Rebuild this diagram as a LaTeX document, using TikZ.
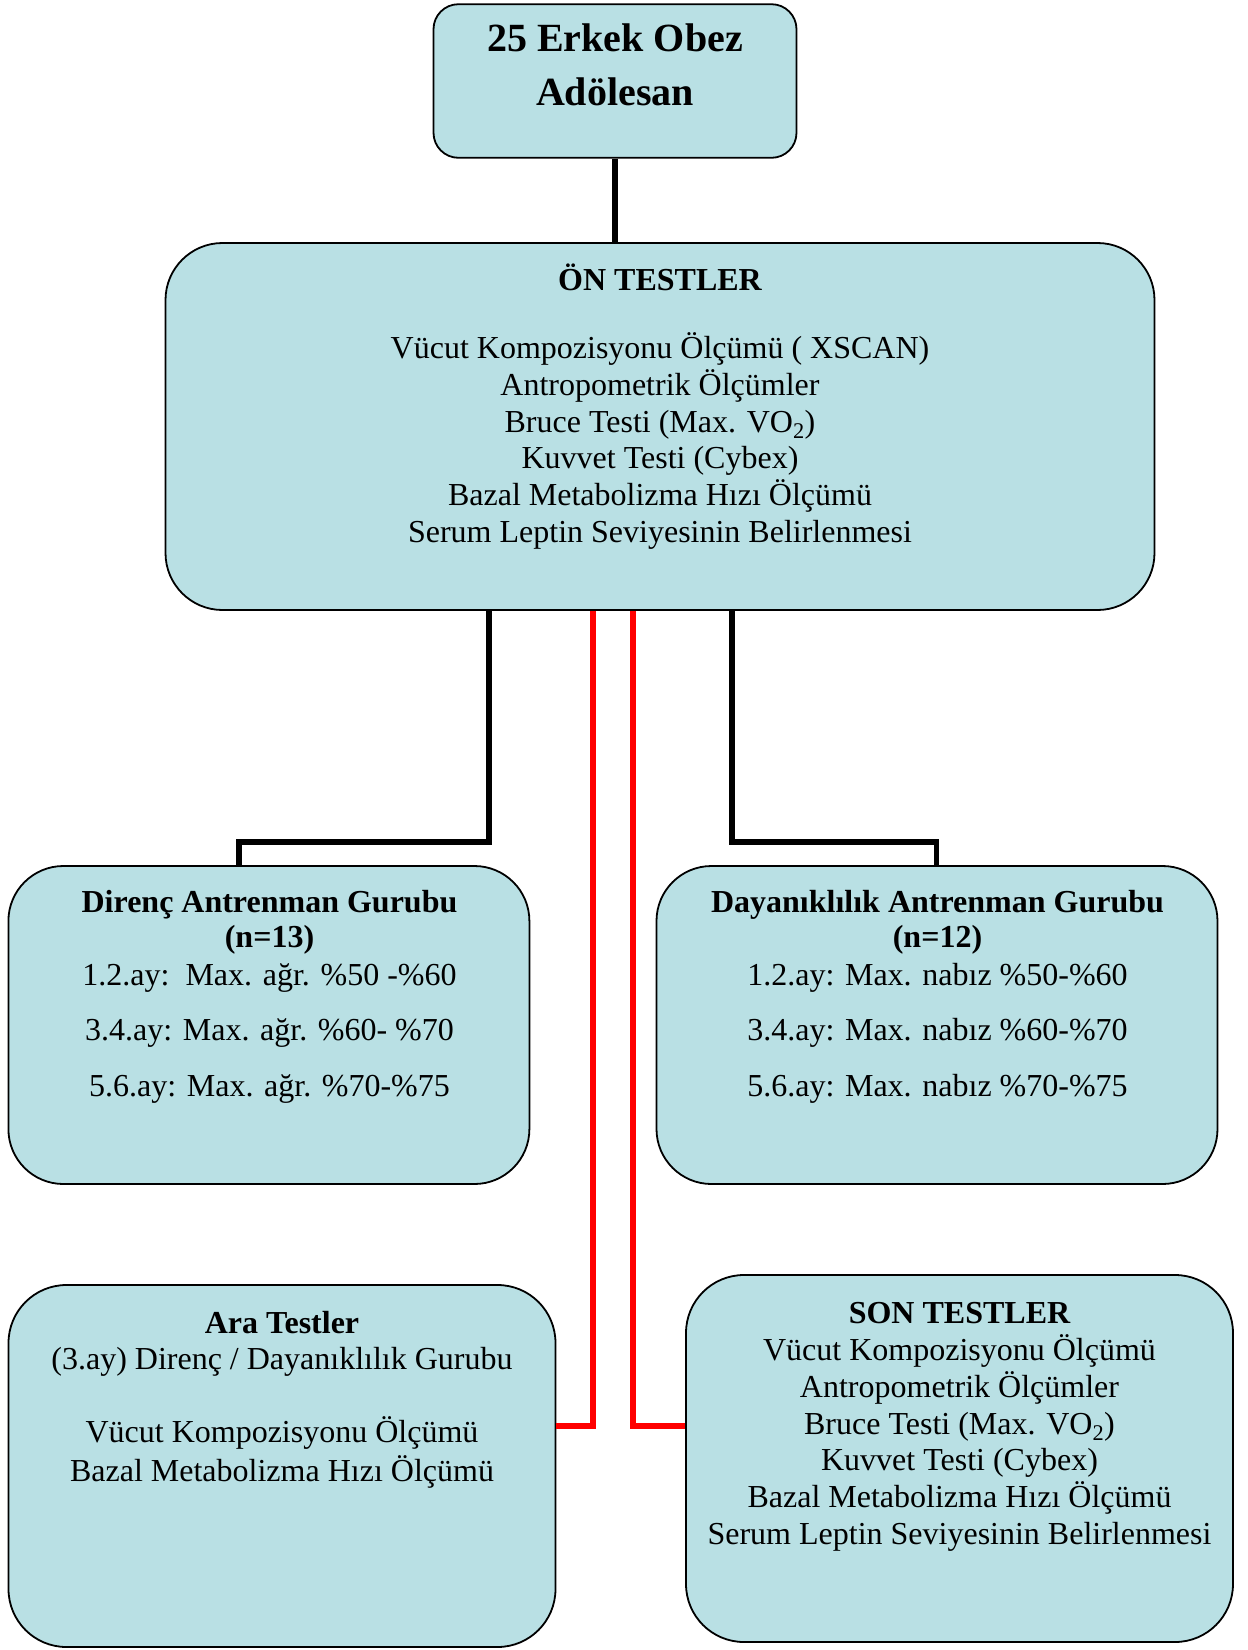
\documentclass[tikz,border=0pt]{standalone}
\usepackage{fontspec}
\setmainfont{Liberation Serif}
\definecolor{boxfill}{RGB}{185,224,228}
\definecolor{redline}{RGB}{255,0,0}
\tikzset{
  box/.style={draw=black, line width=1.8pt, fill=boxfill, inner sep=0pt},
  conn/.style={draw=black, line width=5.5pt},
  redconn/.style={draw=redline, line width=5.5pt},
  txt/.style={inner sep=0pt, anchor=base, font=\fontsize{32}{38}\selectfont},
  btxt/.style={txt, font=\fontsize{32}{38}\selectfont\bfseries},
  bigtxt/.style={inner sep=0pt, anchor=base, font=\fontsize{40}{48}\selectfont\bfseries}
}
\begin{document}
\begin{tikzpicture}[x=1pt,y=-1pt]
\useasboundingbox (0,0) rectangle (1248,1650);

% boxes
\node[box, rounded corners=25pt, minimum width=363pt, minimum height=153.6pt] (top) at (615,81) {};
\node[box, rounded corners=57pt, minimum width=989pt, minimum height=367pt] (on) at (660,426.5) {};
\node[box, rounded corners=55pt, minimum width=521pt, minimum height=318pt] (dir) at (268.9,1025) {};
\node[box, rounded corners=55pt, minimum width=561pt, minimum height=318pt] (day) at (937,1025) {};
\node[box, rounded corners=58pt, minimum width=547pt, minimum height=362pt] (ara) at (282,1466) {};
\node[box, rounded corners=58pt, minimum width=547pt, minimum height=367pt] (son) at (959.5,1458.5) {};

% connectors
\draw[conn] (top.south) -- (top.south |- on.north);
\coordinate (l1) at (489,842);
\coordinate (l2) at (239,842);
\draw[conn] ([xshift=-171pt]on.south) -- (l1) -- (l2) -- (l2 |- dir.north);
\coordinate (r1) at (732,842);
\coordinate (r2) at (936.5,842);
\draw[conn] ([xshift=72pt]on.south) -- (r1) -- (r2) -- (r2 |- day.north);
\coordinate (rl) at (593,1426);
\coordinate (rr) at (633,1426);
\draw[redconn] ([xshift=-67pt]on.south) -- (rl) -- (ara.east |- rl);
\draw[redconn] ([xshift=-27pt]on.south) -- (rr) -- (son.west |- rr);

% top box text
\node[bigtxt] (t1) at (615,51) {25 Erkek Obez};
\node[bigtxt] (t2) at (615,105) {Adölesan};

% on testler
\node[btxt] (o0) at (660,290.5) {ÖN TESTLER};
\node[txt] (o1) at (660,358.5) {Vücut Kompozisyonu Ölçümü ( XSCAN)};
\node[txt] (o2) at (660,395.3) {Antropometrik Ölçümler};
\node[txt] (o3) at (660,432.1) {Bruce Testi (Max. VO\textsubscript{2})};
\node[txt] (o4) at (660,468.9) {Kuvvet Testi (Cybex)};
\node[txt] (o5) at (660,505.7) {Bazal Metabolizma Hızı Ölçümü};
\node[txt] (o6) at (660,542.5) {Serum Leptin Seviyesinin Belirlenmesi};

% direnc
\node[btxt] (d0) at (269.5,912.5) {Direnç Antrenman Gurubu};
\node[btxt] (d1) at (269.5,947.5) {(n=13)};
\node[txt] (d2) at (269.5,985.5) {1.2.ay:\ \ Max. ağr. \%50 -\%60};
\node[txt] (d3) at (269.5,1040.5) {3.4.ay: Max. ağr. \%60- \%70};
\node[txt] (d4) at (269.5,1096) {5.6.ay: Max. ağr. \%70-\%75};

% dayaniklilik
\node[btxt] (y0) at (937.5,912.5) {Dayanıklılık Antrenman Gurubu};
\node[btxt] (y1) at (937.5,947.5) {(n=12)};
\node[txt] (y2) at (937.5,985.5) {1.2.ay: Max. nabız \%50-\%60};
\node[txt] (y3) at (937.5,1040.5) {3.4.ay: Max. nabız \%60-\%70};
\node[txt] (y4) at (937.5,1096) {5.6.ay: Max. nabız \%70-\%75};

% ara testler
\node[btxt] (a0) at (282,1333) {Ara Testler};
\node[txt] (a1) at (282,1369) {(3.ay) Direnç / Dayanıklılık Gurubu};
\node[txt] (a2) at (282,1442) {Vücut Kompozisyonu Ölçümü};
\node[txt] (a3) at (282,1481) {Bazal Metabolizma Hızı Ölçümü};

% son testler
\node[btxt] (s0) at (959.5,1323.5) {SON TESTLER};
\node[txt] (s1) at (959.5,1360) {Vücut Kompozisyonu Ölçümü};
\node[txt] (s2) at (959.5,1397) {Antropometrik Ölçümler};
\node[txt] (s3) at (959.5,1434) {Bruce Testi (Max. VO\textsubscript{2})};
\node[txt] (s4) at (959.5,1470.5) {Kuvvet Testi (Cybex)};
\node[txt] (s5) at (959.5,1507.5) {Bazal Metabolizma Hızı Ölçümü};
\node[txt] (s6) at (959.5,1544.5) {Serum Leptin Seviyesinin Belirlenmesi};
\end{tikzpicture}
\end{document}
